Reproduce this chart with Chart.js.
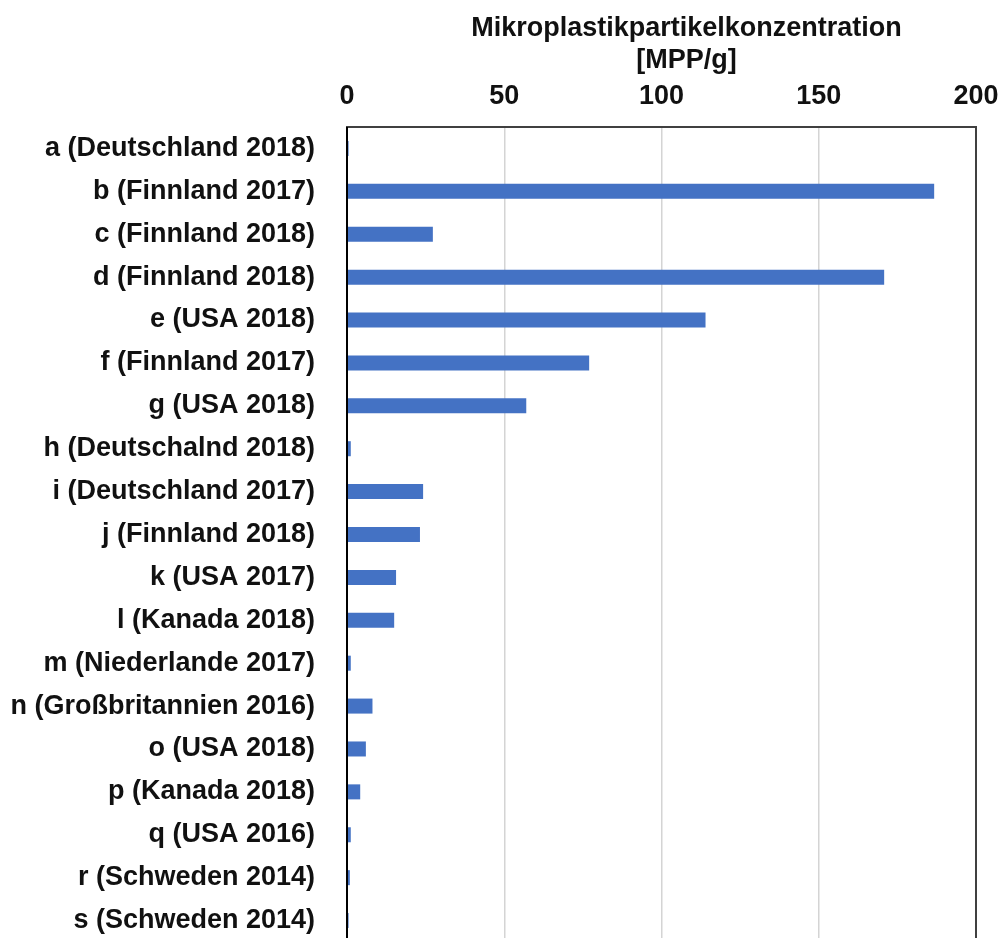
<!DOCTYPE html>
<html>
<head>
<meta charset="utf-8">
<script src="https://cdn.jsdelivr.net/npm/chart.js@4/dist/chart.umd.min.js"></script>
<style>
  html, body { margin: 0; padding: 0; background: #fff; overflow: hidden; }
  canvas { display: block; }
</style>
</head>
<body>
<canvas id="chart" width="1000" height="962"></canvas>
<script>
/* ================================
   Data
================================ */
const categories = [
  'a (Deutschland 2018)', 'b (Finnland 2017)', 'c (Finnland 2018)',
  'd (Finnland 2018)', 'e (USA 2018)', 'f (Finnland 2017)', 'g (USA 2018)',
  'h (Deutschalnd 2018)', 'i (Deutschland 2017)', 'j (Finnland 2018)',
  'k (USA 2017)', 'l (Kanada 2018)', 'm (Niederlande 2017)',
  'n (Großbritannien 2016)', 'o (USA 2018)', 'p (Kanada 2018)',
  'q (USA 2016)', 'r (Schweden 2014)', 's (Schweden 2014)'
];
const mppValues = [0.5, 186.7, 27.3, 170.8, 114, 77, 57, 1.2, 24.2, 23.2,
                   15.6, 15, 1.2, 8.1, 6, 4.2, 1.2, 0.9, 0.5];
const axisTitle = ['Mikroplastikpartikelkonzentration', '[MPP/g]'];
const xTicks = [0, 50, 100, 150, 200];

const FONT = '"Liberation Sans", Arial, Helvetica, sans-serif';

/* ================================
   Frame round the plot area + axis title
================================ */
const frame = {
  id: 'frame',
  afterDraw(chart) {
    const { ctx, chartArea: a } = chart;
    ctx.save();
    ctx.strokeStyle = '#404040';
    ctx.lineWidth = 2;
    ctx.strokeRect(a.left, a.top, a.right - a.left, a.bottom - a.top);
    ctx.strokeStyle = '#000';
    ctx.beginPath();
    ctx.moveTo(a.left, a.top);
    ctx.lineTo(a.left, a.bottom);
    ctx.stroke();

    // title sits a bit right of the plot centre in the original
    ctx.fillStyle = '#111';
    ctx.font = 'bold 27px ' + FONT;
    ctx.textAlign = 'center';
    ctx.textBaseline = 'middle';
    const cx = (a.left + a.right) / 2 + 25;
    axisTitle.forEach((line, i) => ctx.fillText(line, cx, 29 + i * 32));
    ctx.restore();
  }
};

new Chart(document.getElementById('chart').getContext('2d'), {
  type: 'bar',
  data: {
    labels: categories,
    datasets: [{
      data: mppValues,
      backgroundColor: '#4472C4',
      borderWidth: 0,
      barPercentage: 0.35,
      categoryPercentage: 1
    }]
  },
  options: {
    indexAxis: 'y',
    responsive: false,
    animation: false,
    devicePixelRatio: 1,
    layout: { padding: { left: 0, right: 24, top: 0, bottom: 20 } },
    plugins: {
      legend: { display: false },
      tooltip: { enabled: false }
    },
    scales: {
      x: {
        position: 'top',
        min: 0,
        max: 200,
        afterBuildTicks: s => { s.ticks = xTicks.map(v => ({ value: v })); },
        afterFit: s => {
          s.height = 127;
          s.paddingLeft = 0;
          s.paddingRight = 0;
        },
        grid: { color: '#d4d4d4', lineWidth: 1.5, drawTicks: false },
        border: { display: false },
        ticks: {
          color: '#111',
          padding: 14,
          font: { family: FONT, size: 27, weight: 'bold' }
        }
      },
      y: {
        afterFit: s => {
          s.width = 347;
          s.paddingTop = 0;
          s.paddingBottom = 0;
        },
        grid: { display: false, drawTicks: false },
        border: { display: false },
        ticks: {
          color: '#111',
          padding: 32,
          font: { family: FONT, size: 27, weight: 'bold' }
        }
      }
    }
  },
  plugins: [frame]
});
</script>
</body>
</html>
